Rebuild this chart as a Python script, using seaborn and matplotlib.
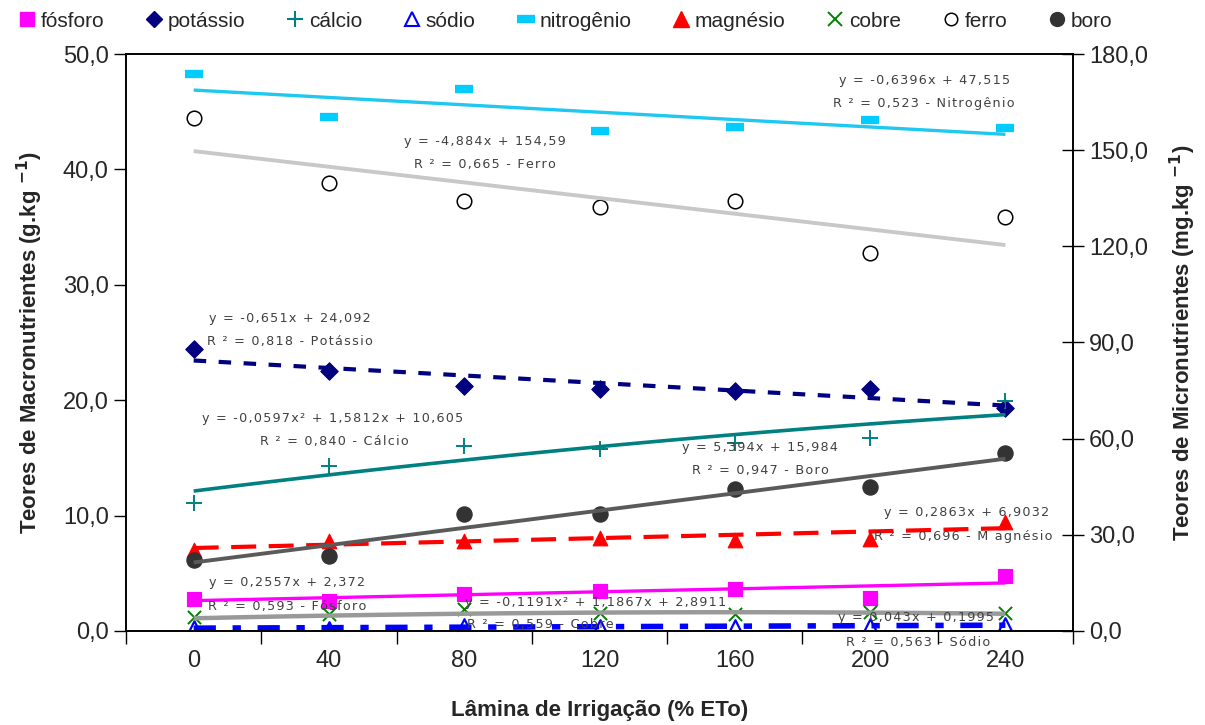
import numpy as np
import seaborn as sns
import matplotlib.pyplot as plt
from matplotlib.lines import Line2D

lamina = [0, 40, 80, 120, 160, 200, 240]

# macronutrientes (g/kg) - eixo esquerdo
fosforo = [2.8, 2.6, 3.2, 3.5, 3.6, 2.9, 4.8]
potassio = [24.4, 22.5, 21.2, 21.0, 20.8, 21.0, 19.3]
calcio = [11.1, 14.3, 16.0, 15.8, 16.3, 16.7, 19.9]
sodio = [0.25, 0.2, 0.45, 0.35, 0.35, 0.45, 0.5]
nitrogenio = [48.3, 44.5, 47.0, 43.3, 43.7, 44.3, 43.6]
magnesio = [7.0, 7.8, 7.8, 8.1, 7.9, 8.0, 9.4]

# micronutrientes (mg/kg) - eixo direito
cobre = [4.3, 5.4, 6.8, 5.6, 5.3, 5.8, 5.5]
ferro = [160.0, 139.7, 134.1, 132.3, 134.1, 117.9, 129.1]
boro = [22.1, 23.5, 36.5, 36.5, 44.3, 44.9, 55.5]

# coeficientes das linhas de tendencia (x = 1..7), como impressos no grafico
coef_fosforo = [0.2557, 2.372]
coef_potassio = [-0.651, 24.092]
coef_calcio = [-0.0597, 1.5812, 10.605]
coef_sodio = [0.043, 0.1995]
coef_nitrogenio = [-0.6396, 47.515]
coef_magnesio = [0.2863, 6.9032]
coef_cobre = [-0.1191, 1.1867, 2.8911]
coef_ferro = [-4.884, 154.59]
coef_boro = [5.394, 15.984]

macro_ticks = [0, 10, 20, 30, 40, 50]
macro_labels = ["0,0", "10,0", "20,0", "30,0", "40,0", "50,0"]
micro_ticks = [0, 30, 60, 90, 120, 150, 180]
micro_labels = ["0,0", "30,0", "60,0", "90,0", "120,0", "150,0", "180,0"]

sns.set_theme(style="ticks")
plt.rcParams["font.family"] = ["Liberation Sans", "DejaVu Sans"]

fig = plt.figure(figsize=(12.05, 7.25), dpi=100)
ax = fig.add_axes([0.1046, 0.1297, 0.7859, 0.7958])
ax2 = ax.twinx()

xs = np.linspace(0, 240, 61)
xi = xs / 40 + 1


def trend(a, coef, color, lw, dashes=None):
    sns.lineplot(x=xs, y=np.polyval(coef, xi), ax=a, color=color, linewidth=lw)
    ln = a.lines[-1]
    if dashes:
        ln.set_dashes(dashes)
    ln.set_solid_capstyle("butt")


# tendencias eixo esquerdo
trend(ax, coef_nitrogenio, "#1ec8f0", 2.4)
trend(ax, coef_potassio, "#000080", 3.0, (3, 3))
trend(ax, coef_calcio, "#008080", 2.6)
trend(ax, coef_magnesio, "#ff0000", 3.0, (6, 3))
trend(ax, coef_fosforo, "#ff00ff", 2.4)
trend(ax, coef_sodio, "#0000ff", 4.0, (4, 3, 1.5, 3))

# pontos eixo esquerdo
sns.scatterplot(x=lamina, y=nitrogenio, ax=ax, marker="_", s=160, color="#00ccff", linewidth=6)
sns.scatterplot(x=lamina, y=potassio, ax=ax, marker="D", s=80, color="#000080", edgecolor="#000080")
sns.scatterplot(x=lamina, y=calcio, ax=ax, marker="+", s=140, color="#008080", linewidth=1.4)
sns.scatterplot(x=lamina, y=magnesio, ax=ax, marker="^", s=110, color="#ff0000", edgecolor="#ff0000")
sns.scatterplot(x=lamina, y=fosforo, ax=ax, marker="s", s=110, color="#ff00ff", edgecolor="#ff00ff")
sns.scatterplot(x=lamina, y=sodio, ax=ax, marker="^", s=110, facecolor="white", edgecolor="#0000ff", linewidth=1.6)

# tendencias eixo direito
trend(ax2, coef_ferro, "#c8c8c8", 2.8)
trend(ax2, coef_boro, "#5a5a5a", 2.8)
trend(ax2, coef_cobre, "#999999", 3.2)

# pontos eixo direito
sns.scatterplot(x=lamina, y=ferro, ax=ax2, marker="o", s=110, facecolor="white", edgecolor="black", linewidth=1.1)
sns.scatterplot(x=lamina, y=boro, ax=ax2, marker="o", s=120, color="#333333", edgecolor="#333333")
sns.scatterplot(x=lamina, y=cobre, ax=ax2, marker="x", s=90, color="#008000", linewidth=1.4)

ax.set_xlim(-20, 260)
ax.set_ylim(0, 50)
ax2.set_ylim(0, 180)

ax.set_xticks(np.arange(-20, 261, 40))
ax.set_xticklabels([])
ax.set_xticks(lamina, minor=True)
ax.set_xticklabels([str(v) for v in lamina], minor=True)
ax.tick_params(axis="x", which="major", direction="out", length=9, width=1, color="black")
ax.tick_params(axis="x", which="minor", length=0, labelsize=17, pad=14)

ax.set_yticks(macro_ticks)
ax.set_yticklabels(macro_labels)
ax.tick_params(axis="y", direction="out", length=9, width=1, labelsize=17, color="black")
ax2.set_yticks(micro_ticks)
ax2.set_yticklabels(micro_labels)
ax2.tick_params(axis="y", direction="inout", length=16, width=1, labelsize=17, color="black")

for a in (ax, ax2):
    for s in a.spines.values():
        s.set_color("black")
        s.set_linewidth(1.2)
    a.set_facecolor("none")

ax.set_xlabel("Lâmina de Irrigação (% ETo)", fontsize=16, fontweight="bold", labelpad=20)
ax.set_ylabel(r"Teores de Macronutrientes (g.kg $^{\mathbf{-1}}$)", fontsize=16, fontweight="bold", labelpad=13)
ax2.set_ylabel(r"Teores de Micronutrientes (mg.kg $^{\mathbf{-1}}$)", fontsize=16, fontweight="bold", labelpad=14)

# equacoes das tendencias
notes = [
    (216, 47.7, "y = -0,6396x + 47,515"), (216, 45.75, "R ² = 0,523 - Nitrogênio"),
    (86, 42.4, "y = -4,884x + 154,59"), (86, 40.4, "R ² = 0,665 - Ferro"),
    (28.5, 27.1, "y = -0,651x + 24,092"), (28.5, 25.1, "R ² = 0,818 - Potássio"),
    (41, 18.4, "y = -0,0597x² + 1,5812x + 10,605"), (41.5, 16.4, "R ² = 0,840 - Cálcio"),
    (167.5, 15.9, "y = 5,394x + 15,984"), (167.5, 13.9, "R ² = 0,947 - Boro"),
    (228.4, 10.3, "y = 0,2863x + 6,9032"), (227.5, 8.2, "R ² = 0,696 - M agnésio"),
    (27.6, 4.16, "y = 0,2557x + 2,372"), (27.6, 2.08, "R ² = 0,593 - Fósforo"),
    (118.7, 2.51, "y = -0,1191x² + 1,1867x + 2,8911"), (102.4, 0.52, "R ² = 0,559 - Cobre"),
    (213.6, 1.13, "y = 0,043x + 0,1995"), (214.2, -1.04, "R ² = 0,563 - Sódio"),
]
for x, y, s in notes:
    ax2.text(x, y * 3.6, "\u200a".join(s), ha="center", va="center", fontsize=9.2,
             color="#404040", family="DejaVu Sans", zorder=10)

handles = [
    Line2D([], [], ls="none", marker="s", ms=10, color="#ff00ff"),
    Line2D([], [], ls="none", marker="D", ms=8, color="#000080"),
    Line2D([], [], ls="none", marker="+", ms=12, mew=1.5, color="#008080"),
    Line2D([], [], ls="none", marker="^", ms=10, mfc="white", mec="#0000ff", mew=1.5),
    Line2D([], [], ls="none", marker="_", ms=13, mew=6, color="#00ccff"),
    Line2D([], [], ls="none", marker="^", ms=11, color="#ff0000"),
    Line2D([], [], ls="none", marker="x", ms=10, mew=1.4, color="#008000"),
    Line2D([], [], ls="none", marker="o", ms=9, mfc="white", mec="black", mew=1.1),
    Line2D([], [], ls="none", marker="o", ms=10, color="#333333"),
]
names = ["fósforo", "potássio", "cálcio", "sódio", "nitrogênio", "magnésio", "cobre", "ferro", "boro"]
fig.legend(handles, names, loc="center left", bbox_to_anchor=(0.0, 0.971), ncol=9, frameon=False,
           fontsize=15, handlelength=0.8, handletextpad=0.25, columnspacing=2.0)

fig.savefig("out.png", dpi=100)
